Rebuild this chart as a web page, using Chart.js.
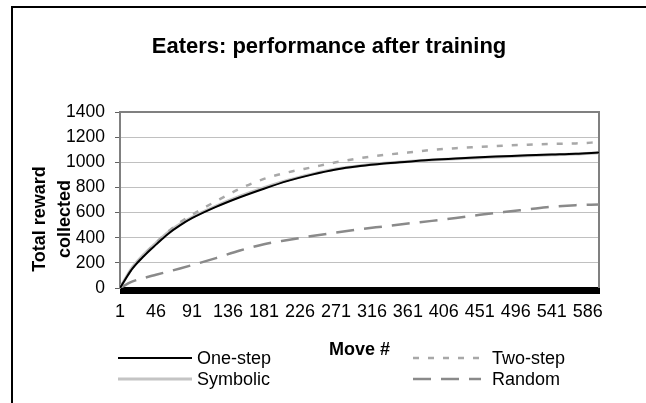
<!DOCTYPE html>
<html lang="en">
<head>
    <meta charset="UTF-8">
    <title>Eaters: performance after training</title>
    <script src="https://cdn.jsdelivr.net/npm/chart.js"></script>
    <style>
        html, body { margin: 0; padding: 0; background: #fff; }
        #grafico { display: block; }
    </style>
</head>
<body>
    <canvas id="grafico" width="646" height="403"></canvas>
<script>
    // valores (move # -> recompensa total)
    const moves    = [1, 16, 31, 46, 61, 76, 91, 121, 151, 181, 211, 241, 271, 301, 331, 361, 391, 421, 451, 481, 511, 541, 571, 600];
    const oneStep  = [0, 150, 255, 345, 430, 498, 555, 645, 722, 790, 852, 902, 943, 970, 990, 1005, 1020, 1031, 1040, 1048, 1056, 1062, 1068, 1078];
    const twoStep  = [0, 152, 262, 358, 448, 522, 582, 690, 790, 868, 920, 960, 1000, 1033, 1058, 1077, 1098, 1112, 1122, 1132, 1140, 1146, 1150, 1160];
    const symbolic = [0, 160, 268, 358, 442, 508, 563, 652, 730, 798, 858, 906, 946, 973, 992, 1007, 1019, 1029, 1037, 1045, 1052, 1059, 1065, 1075];
    const random   = [0, 50, 80, 105, 130, 155, 182, 238, 298, 348, 382, 413, 441, 467, 490, 513, 534, 557, 582, 604, 625, 646, 659, 665];

    const yTicks = [0, 200, 400, 600, 800, 1000, 1200, 1400];
    const xLabelStep = 45;

    const fonte = "'Liberation Sans', Arial, sans-serif";

    function pontos(valores) {
        return moves.map((m, i) => ({ x: m, y: valores[i] }));
    }

    const series = [
        { label: 'One-step', data: pontos(oneStep),  borderColor: '#000000', borderWidth: 2,   borderDash: [] },
        { label: 'Two-step', data: pontos(twoStep),  borderColor: '#a8a8a8', borderWidth: 2.5, borderDash: [6, 9] },
        { label: 'Symbolic', data: pontos(symbolic), borderColor: '#c4c4c4', borderWidth: 3,   borderDash: [] },
        { label: 'Random',   data: pontos(random),   borderColor: '#8a8a8a', borderWidth: 2.5, borderDash: [18, 10] }
    ];

    // moldura, titulos e legenda no estilo do Excel
    const decoracao = {
        id: 'decoracao',
        beforeDatasetsDraw(chart) {
            const ctx = chart.ctx;
            const a = chart.chartArea;
            ctx.save();
            ctx.strokeStyle = '#808080';
            ctx.lineWidth = 2;
            ctx.beginPath();
            ctx.moveTo(a.left, a.top);
            ctx.lineTo(a.right, a.top);
            ctx.lineTo(a.right, a.bottom);
            ctx.stroke();
            ctx.restore();
        },
        afterDraw(chart) {
            const ctx = chart.ctx;
            const a = chart.chartArea;
            ctx.save();

            // moldura externa (so topo e esquerda aparecem)
            ctx.strokeStyle = '#000';
            ctx.lineWidth = 2;
            ctx.beginPath();
            ctx.moveTo(12, 403);
            ctx.lineTo(12, 7);
            ctx.lineTo(646, 7);
            ctx.stroke();

            ctx.fillStyle = '#000';
            ctx.textBaseline = 'middle';

            // titulo
            ctx.font = 'bold 22px ' + fonte;
            ctx.textAlign = 'center';
            ctx.fillText('Eaters: performance after training', 329, 47);

            // titulo eixo y
            ctx.save();
            ctx.translate(52, 219);
            ctx.rotate(-Math.PI / 2);
            ctx.font = 'bold 18px ' + fonte;
            ctx.fillText('Total reward', 0, -12);
            ctx.fillText('collected', 0, 13);
            ctx.restore();

            // titulo eixo x
            ctx.font = 'bold 18px ' + fonte;
            ctx.fillText('Move #', (a.left + a.right) / 2, 350);

            // legenda 2x2
            const posicoes = [
                { x: 118, y: 358 },
                { x: 413, y: 358 },
                { x: 118, y: 379 },
                { x: 413, y: 379 }
            ];
            ctx.font = '18px ' + fonte;
            ctx.textAlign = 'left';
            chart.data.datasets.forEach(function (ds, i) {
                const p = posicoes[i];
                const largura = i % 2 === 0 ? 74 : 68;
                ctx.strokeStyle = ds.borderColor;
                ctx.lineWidth = ds.borderWidth;
                ctx.setLineDash(ds.borderDash);
                ctx.beginPath();
                ctx.moveTo(p.x, p.y);
                ctx.lineTo(p.x + largura, p.y);
                ctx.stroke();
                ctx.setLineDash([]);
                ctx.fillText(ds.label, p.x + largura + (i % 2 === 0 ? 5 : 11), p.y + 1);
            });

            ctx.restore();
        }
    };

    const config = {
        type: 'line',
        data: {
            datasets: series.map(s => ({
                label: s.label,
                data: s.data,
                borderColor: s.borderColor,
                borderWidth: s.borderWidth,
                borderDash: s.borderDash,
                pointRadius: 0,
                fill: false,
                cubicInterpolationMode: 'monotone'
            }))
        },
        options: {
            responsive: false,
            devicePixelRatio: 1,
            animation: false,
            layout: {
                padding: { left: 0, top: 112, right: 47, bottom: 75 }
            },
            plugins: {
                legend: { display: false },
                title: { display: false },
                tooltip: { enabled: false }
            },
            scales: {
                x: {
                    type: 'linear',
                    min: 1,
                    max: 600,
                    afterFit: function (scale) { scale.height = 40; },
                    ticks: {
                        stepSize: 1,
                        maxTicksLimit: 1000,
                        autoSkip: false,
                        maxRotation: 0,
                        minRotation: 0,
                        padding: 7,
                        color: '#000',
                        font: { family: fonte, size: 18 },
                        callback: function (v) {
                            return (v - 1) % xLabelStep === 0 ? String(v) : '';
                        }
                    },
                    grid: {
                        drawOnChartArea: false,
                        color: '#000',
                        tickLength: 6,
                        lineWidth: 1
                    },
                    border: { color: '#000', width: 2 }
                },
                y: {
                    min: 0,
                    max: 1400,
                    afterFit: function (scale) { scale.width = 120; },
                    afterBuildTicks: function (scale) {
                        scale.ticks = yTicks.map(v => ({ value: v }));
                    },
                    ticks: {
                        padding: 10,
                        color: '#000',
                        font: { family: fonte, size: 17.5 },
                        callback: function (v) { return String(v); }
                    },
                    grid: {
                        color: '#c0c0c0',
                        tickColor: '#606060',
                        tickLength: 5,
                        lineWidth: 1
                    },
                    border: { color: '#808080', width: 2 }
                }
            }
        },
        plugins: [decoracao]
    };

    new Chart(document.getElementById('grafico'), config);
</script>
</body>
</html>
